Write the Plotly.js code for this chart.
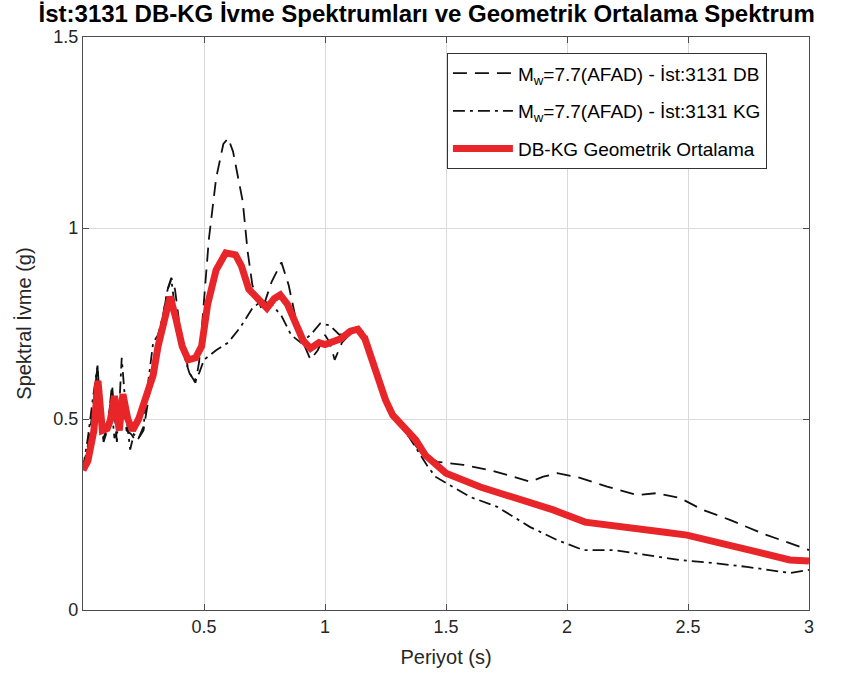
<!DOCTYPE html>
<html><head><meta charset="utf-8">
<script src="https://cdn.plot.ly/plotly-3.0.1.min.js"></script>
<style>html,body{margin:0;padding:0;background:#fff}#chart{width:845px;height:690px}</style>
</head><body><div id="chart"></div>
<script>
// Periods (s) and spectral accelerations (g)
const dbPeriod = [0.0,0.02,0.04,0.06,0.075,0.085,0.1,0.12,0.14,0.16,0.18,0.2,0.22,0.25,0.27,0.29,0.31,0.33,0.35,0.365,0.38,0.40,0.42,0.44,0.465,0.48,0.5,0.52,0.55,0.58,0.6,0.62,0.66,0.68,0.70,0.74,0.78,0.82,0.85,0.88,0.91,0.94,0.97,1.0,1.02,1.04,1.07,1.1,1.13,1.16,1.19,1.22,1.25,1.3,1.35,1.4,1.465,1.572,1.683,1.848,1.902,1.96,2.054,2.166,2.29,2.372,2.467,2.562,2.673,2.809,2.921,3.0];
const dbSa = [0.37,0.43,0.52,0.64,0.50,0.44,0.47,0.59,0.44,0.56,0.47,0.46,0.44,0.47,0.55,0.62,0.70,0.76,0.84,0.87,0.84,0.74,0.67,0.62,0.595,0.65,0.80,0.97,1.13,1.22,1.235,1.20,1.07,0.94,0.85,0.785,0.86,0.91,0.85,0.76,0.70,0.655,0.68,0.72,0.70,0.655,0.70,0.72,0.74,0.72,0.67,0.61,0.55,0.50,0.45,0.41,0.388,0.38,0.366,0.336,0.349,0.358,0.346,0.323,0.301,0.306,0.293,0.262,0.236,0.20,0.175,0.157];

const kgPeriod = [0.0,0.02,0.04,0.06,0.07,0.085,0.1,0.115,0.13,0.145,0.16,0.18,0.195,0.21,0.23,0.25,0.27,0.29,0.31,0.33,0.35,0.365,0.38,0.40,0.42,0.44,0.46,0.48,0.5,0.55,0.6,0.65,0.7,0.74,0.78,0.82,0.86,0.9,0.94,0.98,1.02,1.06,1.1,1.14,1.17,1.2,1.24,1.28,1.33,1.38,1.42,1.456,1.60,1.712,1.848,1.96,2.067,2.19,2.331,2.467,2.603,2.743,2.921,3.0];
const kgSa = [0.37,0.45,0.55,0.64,0.50,0.45,0.48,0.55,0.45,0.47,0.66,0.50,0.42,0.46,0.45,0.48,0.60,0.70,0.72,0.77,0.84,0.865,0.79,0.72,0.66,0.62,0.60,0.62,0.655,0.68,0.70,0.74,0.79,0.81,0.80,0.77,0.72,0.70,0.72,0.75,0.745,0.72,0.73,0.74,0.72,0.66,0.58,0.52,0.47,0.42,0.38,0.349,0.296,0.27,0.217,0.183,0.157,0.157,0.144,0.131,0.123,0.113,0.097,0.105];

const gmPeriod = [0.0,0.02,0.045,0.062,0.08,0.1,0.115,0.13,0.15,0.165,0.185,0.205,0.23,0.26,0.29,0.31,0.34,0.36,0.385,0.41,0.435,0.465,0.49,0.515,0.55,0.59,0.63,0.655,0.685,0.725,0.76,0.79,0.815,0.845,0.88,0.91,0.94,0.975,1.0,1.03,1.065,1.105,1.135,1.165,1.19,1.215,1.25,1.28,1.335,1.375,1.415,1.456,1.5,1.642,1.724,1.861,1.943,2.075,2.19,2.314,2.397,2.496,2.603,2.785,2.921,3.0];
const gmSa = [0.366,0.39,0.47,0.60,0.47,0.475,0.50,0.56,0.47,0.565,0.50,0.47,0.50,0.565,0.615,0.69,0.76,0.82,0.76,0.69,0.655,0.66,0.69,0.80,0.89,0.935,0.93,0.90,0.84,0.81,0.79,0.815,0.825,0.80,0.745,0.705,0.685,0.70,0.695,0.70,0.71,0.73,0.735,0.71,0.665,0.615,0.55,0.51,0.47,0.445,0.405,0.38,0.358,0.322,0.306,0.275,0.262,0.23,0.222,0.209,0.204,0.196,0.178,0.152,0.131,0.128];

const xTicks = [0.5,1,1.5,2,2.5,3];
const yTicks = [0,0.5,1,1.5];

const FONT = 'Liberation Sans, Arial, sans-serif';

const traces = [
  {x: dbPeriod, y: dbSa, mode: 'lines', name: 'M<sub>w</sub>=7.7(AFAD) - İst:3131 DB', legendgroup: 'a',
   line: {color: '#111', width: 1.8, dash: '14px,8px'}},
  {x: kgPeriod, y: kgSa, mode: 'lines', name: 'M<sub>w</sub>=7.7(AFAD) - İst:3131 KG', legendgroup: 'b',
   line: {color: '#111', width: 1.8, dash: '12px,5px,3px,5px'}},
  {x: gmPeriod, y: gmSa, mode: 'lines', name: 'DB-KG Geometrik Ortalama', legendgroup: 'c',
   line: {color: '#e8262a', width: 7}}
];

const axisCommon = {
  showgrid: true, gridcolor: '#d9d9d9', gridwidth: 1,
  zeroline: false, showline: true, linecolor: '#4d4d4d', linewidth: 1.2,
  mirror: 'ticks', ticks: 'inside', ticklen: 6, tickcolor: '#4d4d4d',
  tickfont: {family: FONT, size: 18, color: '#262626'}
};

const layout = {
  width: 845, height: 690,
  margin: {l: 83, r: 36, t: 37, b: 80},
  paper_bgcolor: '#fff', plot_bgcolor: '#fff',
  title: {text: '<b>İst:3131 DB-KG İvme Spektrumları ve Geometrik Ortalama Spektrum</b>',
          font: {family: FONT, size: 24, color: '#000'},
          x: 0.505, xanchor: 'center', y: 0.981, yanchor: 'middle'},
  xaxis: Object.assign({}, axisCommon, {range: [0, 3], tickvals: xTicks, ticktext: xTicks.map(String),
          title: {text: 'Periyot (s)', font: {family: FONT, size: 20, color: '#262626'}, standoff: 14}}),
  yaxis: Object.assign({}, axisCommon, {range: [0, 1.5], tickvals: yTicks, ticktext: yTicks.map(String),
          title: {text: 'Spektral İvme (g)', font: {family: FONT, size: 20, color: '#262626'}, standoff: 16}}),
  showlegend: true,
  legend: {x: 0.501, y: 0.972, xanchor: 'left', yanchor: 'top', traceorder: 'grouped',
           bgcolor: '#fff', bordercolor: '#333', borderwidth: 1.2, itemwidth: 60,
           font: {family: FONT, size: 19, color: '#000'},
           tracegroupgap: 10}
};

Plotly.newPlot('chart', traces, layout, {displayModeBar: false, staticPlot: true});
</script></body></html>
